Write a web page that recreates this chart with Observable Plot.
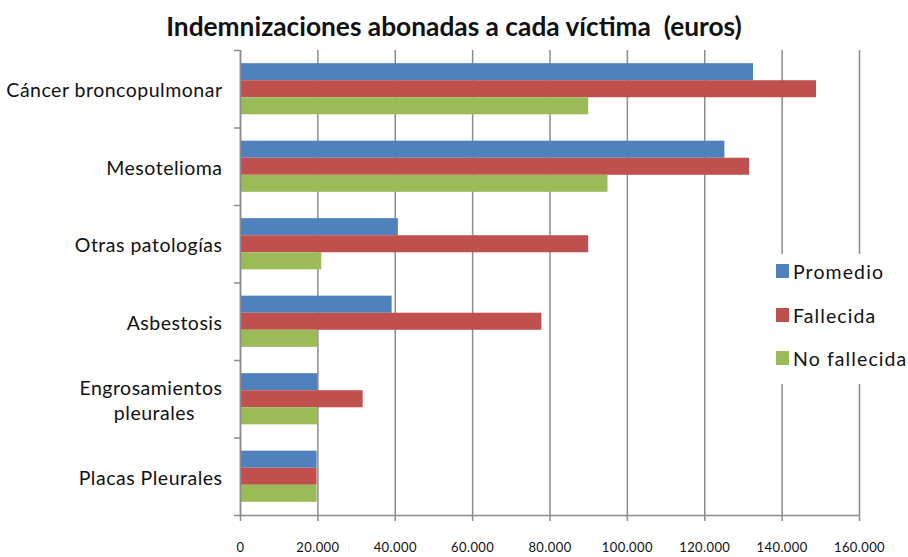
<!DOCTYPE html>
<html>
<head>
<meta charset="utf-8">
<script src="https://cdn.jsdelivr.net/npm/d3@7"></script>
<script src="https://cdn.jsdelivr.net/npm/@observablehq/plot@0.6"></script>
<style>
  html, body { margin: 0; padding: 0; background: #fff; }
  #wrap { position: relative; width: 908px; height: 557px; font-family: Lato, "Open Sans", sans-serif; }
  #title { height: 46px; box-sizing: border-box; padding-top: 12px; text-align: center; font-weight: bold; font-size: 26.3px; line-height: 28px; color: #111; white-space: pre; }
  #legend { position: absolute; left: 770px; top: 254px; width: 138px; height: 130px; background: #fff; }
  .item { position: absolute; left: 0; height: 22px; display: flex; align-items: center; font-size: 19.5px; letter-spacing: 1.1px; color: #111; white-space: nowrap; }
  .sw { width: 13px; height: 14px; margin: 0 4px 0 6px; }
  g[aria-label="text"] text { letter-spacing: 0.5px; }
  g[aria-label="x-axis tick label"] text { letter-spacing: 0.4px; }
</style>
</head>
<body>
<div id="wrap">
  <div id="title">Indemnizaciones abonadas a cada víctima  (euros)</div>
  <div id="chart"></div>
  <div id="legend"></div>
</div>
<script>
const categories = ["Cáncer broncopulmonar", "Mesotelioma", "Otras patologías", "Asbestosis", "Engrosamientos\npleurales\u00A0\u00A0\u00A0\u00A0\u00A0", "Placas Pleurales"];
const series = ["Promedio", "Fallecida", "No fallecida"];
const promedio    = [132600, 125200, 40800, 39200, 20000, 19800];
const fallecida   = [148900, 131600, 90000, 77900, 31700, 19800];
const noFallecida = [ 90000,  95000, 21000, 20000, 20000, 19800];
const xTicks = [0, 20000, 40000, 60000, 80000, 100000, 120000, 140000, 160000];
const colors = ["#4F81BD", "#C0504D", "#9BBB59"];

const seriesValues = [promedio, fallecida, noFallecida];
const data = categories.flatMap((c, i) => series.map((s, j) => ({
  category: c, ci: i, series: s, sj: j, value: seriesValues[j][i]
})));

const outer = 0.17, barH = (1 - 2 * outer) / 3;
const fmt = d => d3.format(",")(d).replace(/,/g, ".");
const grid = "#8c8c8c";

const chart = Plot.plot({
  width: 908,
  height: 511,
  marginLeft: 240,
  marginRight: 49,
  marginTop: 4,
  marginBottom: 42,
  style: { fontFamily: "Lato, 'Open Sans', sans-serif", background: "white", color: "#111" },
  x: { domain: [0, 160000], axis: null },
  y: { domain: [6, 0], axis: null },
  color: { domain: series, range: colors },
  marks: [
    Plot.ruleX(xTicks, { x: d => d, stroke: grid, strokeWidth: 1.5 }),
    Plot.rectX(data, {
      x1: 0, x2: "value",
      y1: d => d.ci + outer + d.sj * barH,
      y2: d => d.ci + outer + (d.sj + 1) * barH,
      fill: "series"
    }),
    Plot.ruleY([6], { stroke: grid, strokeWidth: 1.5 }),
    Plot.ruleX([0], { stroke: grid, strokeWidth: 1.5 }),
    Plot.axisX({ ticks: xTicks, tickFormat: fmt, tickSize: 6, tickPadding: 21, stroke: grid, strokeWidth: 1.5, fontSize: 13, fill: "#111", label: null }),
    Plot.axisY({ ticks: d3.range(7), tickFormat: () => "", tickSize: 6, stroke: grid, strokeWidth: 1.5, label: null }),
    Plot.text(categories, { text: d => d, y: (d, i) => i + 0.5, frameAnchor: "left", textAnchor: "end", dx: -18, fontSize: 19.5, fill: "#111", lineHeight: 1.3 })
  ]
});
document.getElementById("chart").appendChild(chart);

const legend = document.getElementById("legend");
const tops = [6, 50, 93];
series.forEach((s, j) => {
  const it = document.createElement("div");
  it.className = "item";
  it.style.top = tops[j] + "px";
  it.innerHTML = `<span class="sw" style="background:${colors[j]}"></span><span>${s}</span>`;
  legend.appendChild(it);
});
</script>
</body>
</html>
